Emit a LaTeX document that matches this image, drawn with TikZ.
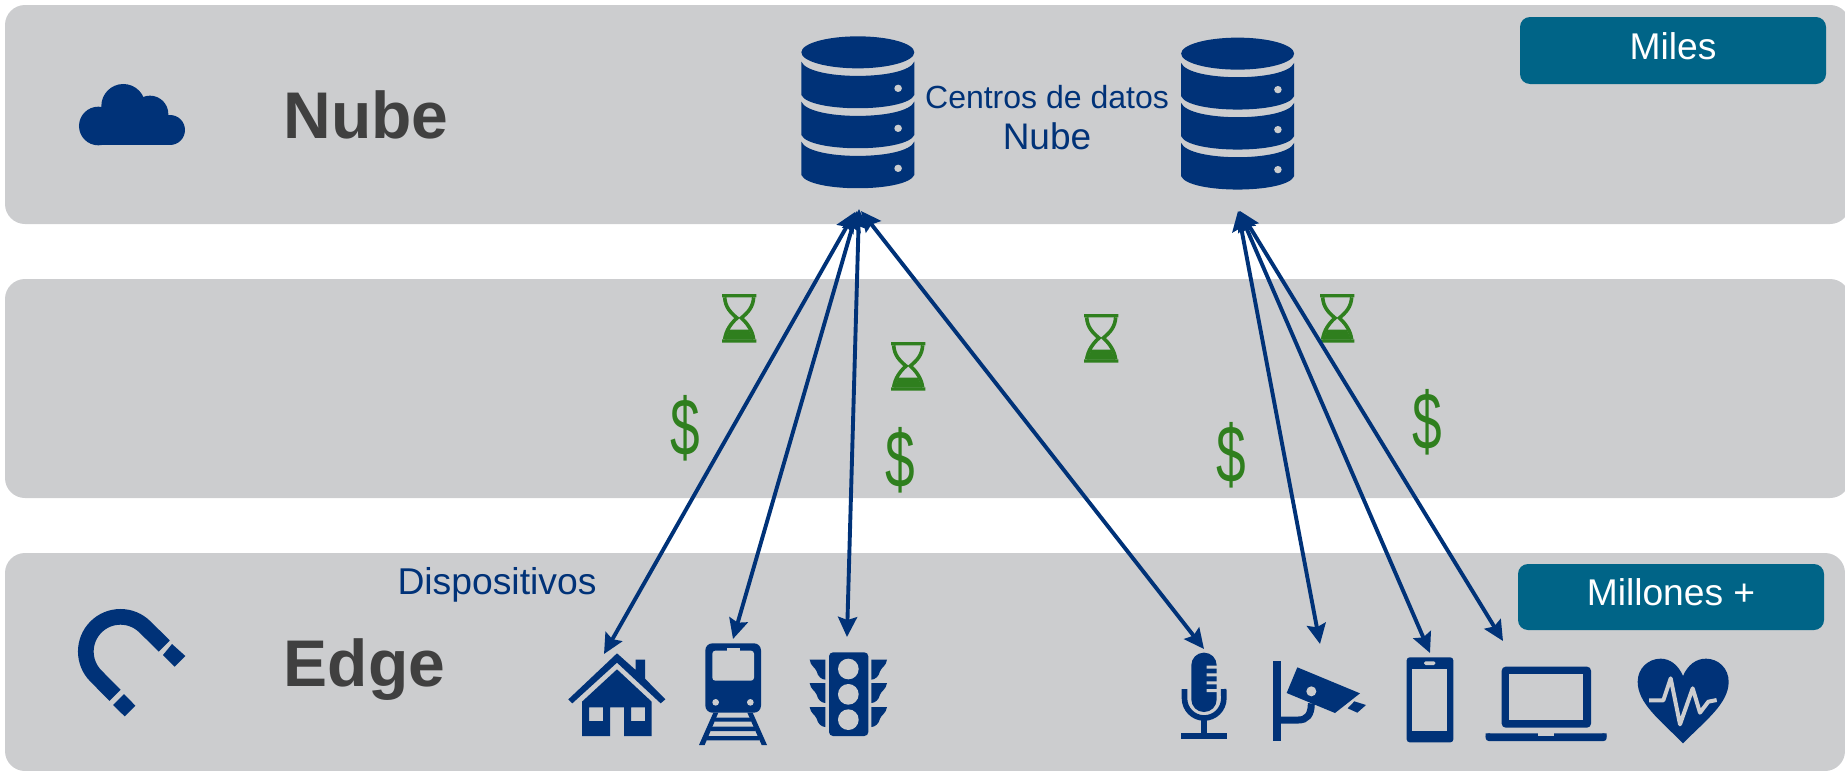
\documentclass[tikz,border=0pt]{standalone}
\usepackage{fontspec}
\usepackage{graphicx}
\setmainfont{Liberation Sans}
\usetikzlibrary{arrows.meta}
\definecolor{band}{HTML}{CCCDCF}
\definecolor{navy}{HTML}{003278}
\definecolor{teal2}{HTML}{006487}
\definecolor{green2}{HTML}{2F7F1E}
\definecolor{ink}{HTML}{404040}
\newcommand{\fs}[1]{\fontsize{#1}{#1}\selectfont}
\newcommand{\dollarmark}{\scalebox{0.76}[1.16]{\$}}
\tikzset{
  bandbox/.style={fill=band,rounded corners=20pt},
  tealbox/.style={fill=teal2,rounded corners=10pt},
  tealtext/.style={text=white,font=\fs{37.2},inner sep=0pt,anchor=base},
  title/.style={text=ink,font=\fs{66}\bfseries,inner sep=0pt,anchor=base},
  bluetext/.style={text=navy,inner sep=0pt,anchor=base},
  money/.style={text=green2,font=\fs{70},inner sep=0pt},
  conn/.style={draw=navy,line width=3.9pt,{Stealth[length=20pt,width=19pt,inset=3pt]}-{Stealth[length=20pt,width=19pt,inset=3pt]}},
  zoomed/.style={x=0.33333pt,y=-0.33333pt},
  hourglass/.pic={
    \begin{scope}[zoomed]
      \fill[green2] (0,0) rectangle (103,10) (0,136) rectangle (103,146);
      \draw[green2,line width=3.6pt] (8,10) .. controls (10,40) and (25,55) .. (45,72) .. controls (25,90) and (12,110) .. (8,136);
      \draw[green2,line width=3.6pt] (95,10) .. controls (93,40) and (78,55) .. (58,72) .. controls (78,90) and (91,110) .. (95,136);
      \fill[green2] (22,107) -- (81,107) -- (93,137) -- (10,137) -- cycle;
    \end{scope}
  },
  dbstack/.pic={
    \begin{scope}[x=0.34435pt,y=-0.33333pt]
      \fill[navy] (226,97) ellipse [x radius=164,y radius=48];
      \foreach \d in {0,120,240}{
        \fill[navy] (62,125+\d) .. controls (85,182+\d) and (367,182+\d) .. (390,125+\d) -- (390,225+\d) .. controls (367,278+\d) and (85,278+\d) .. (62,225+\d) -- cycle;
        \fill[band] (343,205+\d) circle [radius=11];
      }
    \end{scope}
  }
}
\begin{document}
\begin{tikzpicture}[x=1pt,y=-1pt]
\useasboundingbox (0,0) rectangle (1845,771);
% bands
\fill[bandbox] (5,5) rectangle (1850,224);
\fill[bandbox] (5,279) rectangle (1850,498);
\fill[bandbox] (5,553) rectangle (1845,771);
% teal boxes
\fill[tealbox] (1520,17) rectangle (1826,84);
\fill[tealbox] (1518,564) rectangle (1824,630);
\node[tealtext] (miles) at (1673,59) {Miles};
\node[tealtext] (millones) at (1671,605) {Millones +};
% titles
\node[title] (nube) at (366,138) {Nube};
\node[title] (edge) at (364.5,686) {Edge};
\node[bluetext,font=\fs{32}] (centros) at (1047,108) {Centros de datos};
\node[bluetext,font=\fs{37}] (nubeb) at (1047,149) {Nube};
\node[bluetext,font=\fs{37.3}] (disp) at (497,594) {Dispositivos};
% cloud
\begin{scope}[zoomed]
  \fill[navy] (295,378) circle [radius=58] (370,318) circle [radius=66] (450,342) circle [radius=55] (510,390) circle [radius=45];
  \fill[navy] (295,350) rectangle (510,436);
\end{scope}
% magnet
\begin{scope}[shift={(50,560)},zoomed]
  \draw[navy,line width=15.7pt] (343,258) -- (285,201) arc [start angle=-45,end angle=-225,radius=104] -- (195,406);
  \fill[navy] (366,252) -- (406,288) -- (374,320) -- (339,285) -- cycle;
  \fill[navy] (222,402) -- (256,437) -- (224,469) -- (189,435) -- cycle;
\end{scope}
% data centres
\pic at (780,20) {dbstack};
\pic at (1159.8,21.3) {dbstack};
% house, train, lights
\begin{scope}[shift={(540,620)},zoomed]
  \fill[navy] (231,100) -- (287,150) -- (287,119) -- (315,119) -- (315,176) -- (376,238) -- (362,250) -- (231,128) -- (97,250) -- (85,238) -- cycle;
  \fill[navy,even odd rule] (231,148) -- (335,245) -- (335,348) -- (252,348) -- (252,262) -- (210,262) -- (210,348) -- (126,348) -- (126,245) -- cycle
     (147,262) rectangle (189,303) (273,262) rectangle (315,303);
  % train
  \fill[navy,rounded corners=7pt] (496,70) rectangle (663,278);
  \fill[band,rounded corners=3pt] (517,92) rectangle (642,182);
  \fill[band] (560,85) rectangle (600,95);
  \fill[band] (527,247) circle [radius=10] (631,247) circle [radius=10];
  \fill[navy] (520,278) -- (535,278) -- (494,375) -- (477,375) -- cycle;
  \fill[navy] (622,278) -- (638,278) -- (681,375) -- (665,375) -- cycle;
  \fill[navy] (524,293) rectangle (634,305) (512,320) rectangle (646,333) (500,348) rectangle (658,361);
  % lights
  \fill[navy,rounded corners=4pt] (867,97) rectangle (985,348);
  \fill[band] (925,147) circle [radius=31] (925,223) circle [radius=31] (925,299) circle [radius=31];
  \foreach \y in {119,189,261}{
    \fill[navy] (856,\y) -- (809,\y) .. controls (812,\y+20) and (825,\y+22) .. (830,\y+35) .. controls (833,\y+50) and (845,\y+60) .. (856,\y+60) -- cycle;
    \fill[navy] (994,\y) -- (1041,\y) .. controls (1038,\y+20) and (1025,\y+22) .. (1020,\y+35) .. controls (1017,\y+50) and (1005,\y+60) .. (994,\y+60) -- cycle;
  }
\end{scope}
% mic, camera, phone
\begin{scope}[shift={(1160,620)},zoomed]
  \fill[navy,rounded corners=12.5pt] (94,98) rectangle (170,276);
  \fill[band] (140,137) rectangle (172,146) (140,160) rectangle (172,169) (140,184) rectangle (172,193) (140,207) rectangle (172,216);
  \draw[navy,line width=5.6pt] (73.5,207) -- (73.5,235) arc [start angle=180,end angle=0,radius=59] -- (191,207);
  \fill[navy] (124,290) rectangle (140,340);
  \fill[navy] (62,338) rectangle (202,356);
  % camera
  \fill[navy] (340,122) rectangle (362,363);
  \draw[navy,line width=7pt] (362,300) -- (415,300) .. controls (440,300) and (454,285) .. (454,250);
  \fill[navy] (412,142) -- (600,220) -- (525,279) -- (380,219) -- cycle;
  \fill[band] (454,214) circle [radius=15];
  \fill[navy] (583,244) -- (618,255) -- (592,278) -- (563,265) -- cycle;
  % phone
  \fill[navy,rounded corners=3pt] (740,112) rectangle (880,367);
  \fill[band] (757,147) rectangle (862,332);
  \fill[band,rounded corners=1.5pt] (792,124) rectangle (826,135);
\end{scope}
% laptop, heart
\begin{scope}[shift={(1500,620)},zoomed]
  \fill[navy,rounded corners=4pt] (5,140) -- (273,140) -- (273,323) -- (5,323) -- cycle;
  \fill[band] (28,163) rectangle (250,300);
  \fill[navy,rounded corners=3pt] (-43,340) -- (320,340) -- (320,363) -- (-43,363) -- cycle;
  \fill[navy] (-43,340) rectangle (-30,350) (307,340) rectangle (320,350);
  \fill[band] (115,340) rectangle (163,347);
  \fill[navy] (549,370) .. controls (480,300) and (413,250) .. (413,185) .. controls (413,145) and (445,116) .. (482,116) .. controls (510,116) and (535,135) .. (549,168) .. controls (563,135) and (588,116) .. (618,116) .. controls (655,116) and (686,145) .. (686,185) .. controls (686,250) and (618,300) .. (549,370) -- cycle;
  \draw[band,line width=4pt,line join=round] (447,241) -- (490,241) -- (512,175) -- (540,313) -- (578,205) -- (600,278) -- (625,245) -- (650,240);
\end{scope}
% hourglasses and dollars
\pic at (722,294) {hourglass};
\pic at (891,342) {hourglass};
\pic at (1084,314) {hourglass};
\pic at (1320,294) {hourglass};
\node[money] (d1) at (685,428) {\dollarmark};
\node[money] (d2) at (900,460) {\dollarmark};
\node[money] (d3) at (1231,455) {\dollarmark};
\node[money] (d4) at (1427,422) {\dollarmark};
% connector ends
\coordinate (topA1) at (855,212);
\coordinate (topA2) at (857,211);
\coordinate (topA3) at (859,209);
\coordinate (topA4) at (861,211);
\coordinate (topB1) at (1238,211);
\coordinate (topB2) at (1239,211);
\coordinate (topB3) at (1240,211);
\coordinate (house) at (604,654);
\coordinate (train) at (733,639);
\coordinate (lights) at (847,637);
\coordinate (mic) at (1204,649);
\coordinate (cam) at (1320,644);
\coordinate (phone) at (1430,653);
\coordinate (laptop) at (1503,641);
\draw[conn] (topA1) -- (house);
\draw[conn] (topA2) -- (train);
\draw[conn] (topA3) -- (lights);
\draw[conn] (topA4) -- (mic);
\draw[conn] (topB1) -- (cam);
\draw[conn] (topB2) -- (phone);
\draw[conn] (topB3) -- (laptop);
\end{tikzpicture}
\end{document}
